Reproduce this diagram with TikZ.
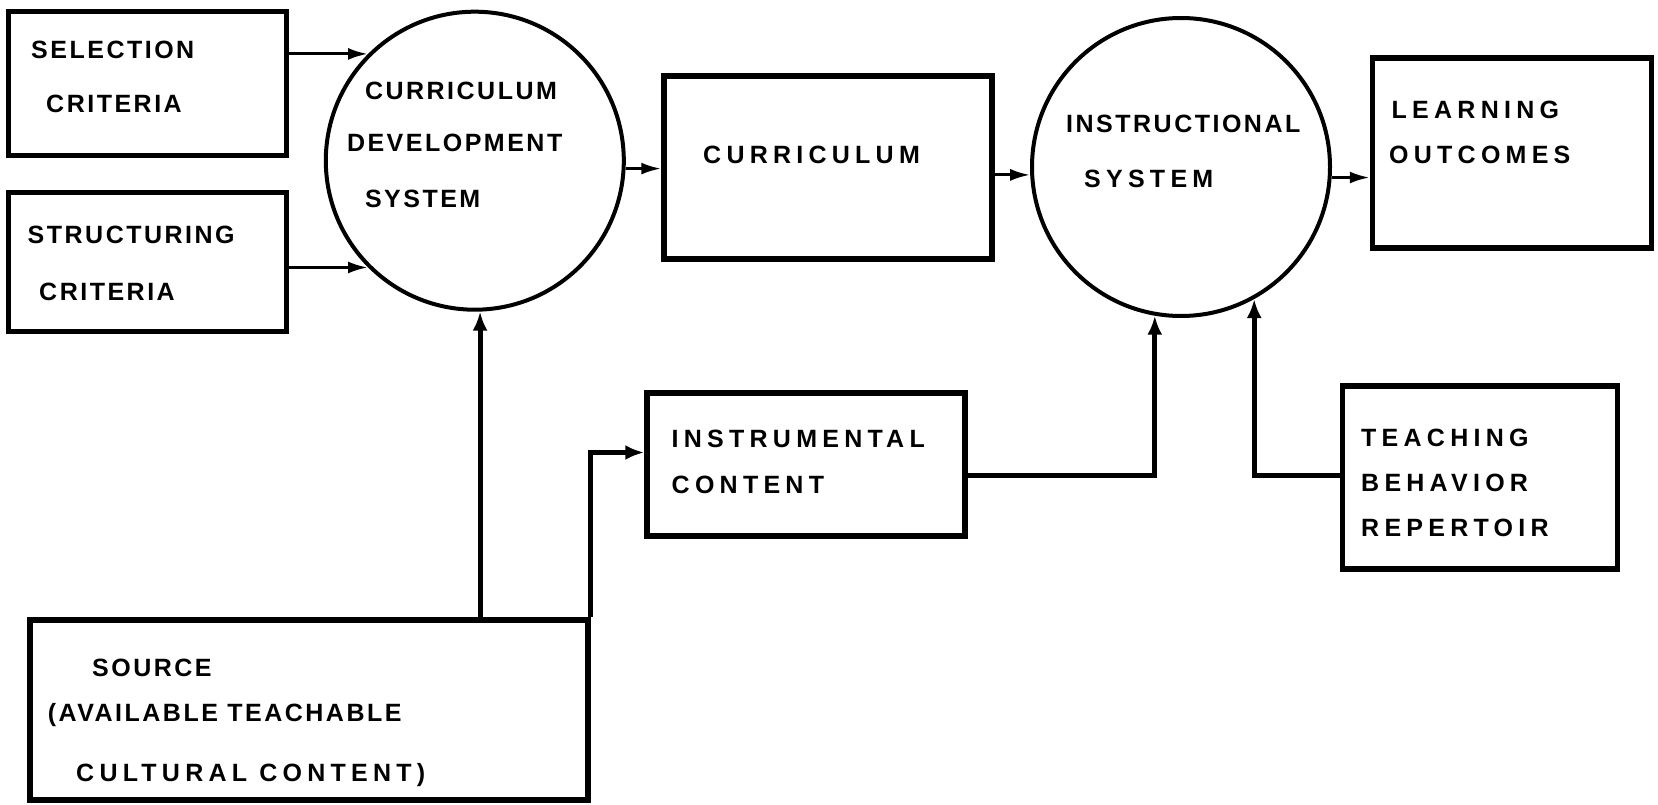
\documentclass[tikz,border=0pt]{standalone}
\usepackage{fontspec}
\newfontfamily\chartfont{Liberation Sans}[LetterSpace=10]
\newfontfamily\widefont{Liberation Sans}[LetterSpace=21]
\usetikzlibrary{positioning,arrows.meta}

\tikzset{
  box/.style={draw, line width=5.5pt, inner sep=0pt},
  disc/.style={circle, draw, line width=4pt, inner sep=0pt, minimum size=298pt},
  word/.style={anchor=west, inner sep=0pt, font=\chartfont\bfseries\fontsize{25}{30}\selectfont},
  wide word/.style={word, font=\widefont\bfseries\fontsize{25}{30}\selectfont},
  link/.style={line width=3pt, -{Latex[length=20pt,width=12pt]}},
  bold link/.style={line width=5pt, -{Latex[length=19pt,width=15pt]}},
}

\begin{document}
\begin{tikzpicture}[x=1pt,y=-1pt]
\useasboundingbox (0,0) rectangle (1658,805);

% boxes and systems
\node[box, minimum width=278pt, minimum height=144pt] (sel) at (147.5,83.5) {};
\node[box, minimum width=278pt, minimum height=139pt] (str) at (147.5,262) {};
\node[disc] (cds) at (474.8,160.7) {};
\node[box, minimum width=328pt, minimum height=183pt] (cur) at (828,167.5) {};
\node[disc] (ins) at (1181,167) {};
\node[box, minimum width=279pt, minimum height=190pt] (out) at (1512,153) {};
\node[box, minimum width=318pt, minimum height=143pt] (tool) at (806,464.5) {};
\node[box, minimum width=275pt, minimum height=183pt] (rep) at (1480,477.5) {};
\node[box, minimum width=558pt, minimum height=180pt] (src) at (309,710) {};

% labels
\node[word] (sel-1) at (31,49.7) {SELECTION};
\node[word] (sel-2) at (46,103.6) {CRITERIA};
\node[word] (str-1) at (27.5,234.7) {STRUCTURING};
\node[word] (str-2) at (39,292) {CRITERIA};
\node[word] (cds-1) at (364.8,91) {CURRICULUM};
\node[word] (cds-2) at (346.8,142.7) {DEVELOPMENT};
\node[word] (cds-3) at (364.8,198.8) {SYSTEM};
\node[wide word] (cur-1) at (703,154.4) {CURRICULUM};
\node[word] (ins-1) at (1066,123.7) {INSTRUCTIONAL};
\node[wide word] (ins-2) at (1084,178.7) {SYSTEM};
\node[wide word] (out-1) at (1391.5,110) {LEARNING};
\node[wide word] (out-2) at (1389,154.4) {OUTCOMES};
\node[wide word] (tool-1) at (671.5,438.8) {INSTRUMENTAL};
\node[wide word] (tool-2) at (671.5,485) {CONTENT};
\node[wide word] (rep-1) at (1361,437.8) {TEACHING};
\node[wide word] (rep-2) at (1361,483) {BEHAVIOR};
\node[wide word] (rep-3) at (1361,527.6) {REPERTOIR};
\node[word] (src-1) at (92,668) {SOURCE};
\node[word] (src-2) at (47.6,714.8) {(AVAILABLE TEACHABLE};
\node[wide word] (src-3) at (76,775) {CULTURAL CONTENT)};

% connectors
\draw[link] (sel.east |- cds.135.4) -- (cds.135.4);
\draw[link] (str.east |- cds.225.8) -- (cds.225.8);
\draw[link] (cds.-3) -- (cur.west |- cds.-3);
\draw[link] (cur.east |- ins.183.7) -- (ins.183.7);
\draw[link] (ins.-4) -- (out.west |- ins.-4);
\draw[bold link] (src.north -| cds.-88.4) -- (cds.-88.4);
\draw[bold link] (src.north east) |- ([yshift=12pt]tool.west);
\draw[bold link] ([yshift=-11pt]tool.east) -| (ins.-100.2);
\draw[bold link] ([yshift=2pt]rep.west) -| (ins.-61.8);

\end{tikzpicture}
\end{document}
